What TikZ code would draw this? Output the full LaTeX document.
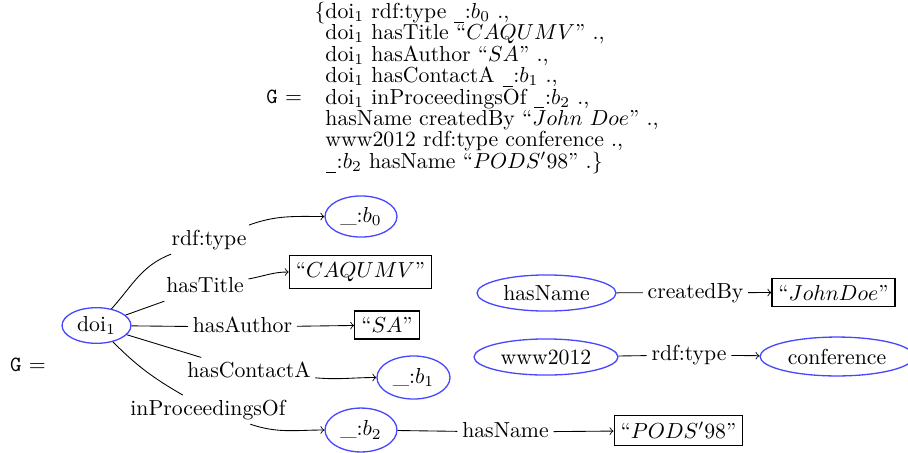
\documentclass[tikz,border=0pt]{standalone}
\usetikzlibrary{shapes.geometric}
\newcommand\myubar{\kern0.3pt\rule[-2pt]{4.6pt}{0.4pt}\kern0.3pt}
\begin{document}
\begin{tikzpicture}[x=0.46pt,y=-0.46pt,>=to,
  ell/.style={ellipse,draw=blue!72,line width=0.6pt,inner sep=0pt},
  lbl/.style={inner sep=2pt,text height=7pt,text depth=2pt},
  lit/.style={draw,line width=0.55pt,inner sep=3pt},
  topline/.style={anchor=base west,inner sep=0pt,font=\fontsize{10}{12}\selectfont}]
\useasboundingbox (0,0) rectangle (908,452);

% textual form
\node[anchor=base west,inner sep=0pt] (g1) at (266,103.7) {\texttt{G} $=$};
\node[topline] (t1) at (325,18.3)  {\llap{\{}doi$_1$ rdf:type \myubar:$b_0$ .,};
\node[topline] (t2) at (325,39.7)  {doi$_1$ hasTitle ``$CAQUMV$'' .,};
\node[topline] (t3) at (325,61.1)  {doi$_1$ hasAuthor ``$SA$'' .,};
\node[topline] (t4) at (325,82.5)  {doi$_1$ hasContactA \myubar:$b_1$ .,};
\node[topline] (t5) at (325,104)   {doi$_1$ inProceedingsOf \myubar:$b_2$ .,};
\node[topline] (t6) at (325,125.4) {hasName createdBy ``$John\ Doe$'' .,};
\node[topline] (t7) at (325,146.8) {www2012 rdf:type conference .,};
\node[topline] (t8) at (325,168.2) {\myubar:$b_2$ hasName ``$PODS'98$'' .\}};

% graph form
\node[inner sep=0pt] (g2) at (28,365) {\texttt{G} $=$};
\node[ell,minimum width=31.7pt,minimum height=16.4pt] (doi) at (96.5,325.5) {doi$_1$};
\node[ell,minimum width=33.1pt,minimum height=18.9pt] (b0) at (361,216.5) {\_:$b_0$};
\node[ell,minimum width=33.6pt,minimum height=19.8pt] (b1) at (413.5,377.5) {\_:$b_1$};
\node[ell,minimum width=33.1pt,minimum height=20.2pt] (b2) at (361,430) {\_:$b_2$};
\node[ell,minimum width=63.9pt,minimum height=16.6pt] (hn) at (546.5,293) {hasName};
\node[ell,minimum width=66.2pt,minimum height=16.6pt] (www) at (546,357) {www2012};
\node[ell,minimum width=70.8pt,minimum height=17.9pt] (conf) at (837,356.5) {conference};

\node[lit] (caq) at (360.5,272) {``$CAQUMV$''};
\node[lit] (sa) at (387,325) {``$SA$''};
\node[lit] (pods) at (678.5,430.5) {``$PODS'98$''};
\node[lit] (jd) at (833.5,292.5) {``$JohnDoe$''};

\node[lbl] (l1) at (209,239.6) {rdf:type};
\node[lbl] (l2) at (205,286.6) {hasTitle};
\node[lbl] (l3) at (242.5,327) {hasAuthor};
\node[lbl] (l4) at (249,372) {hasContactA};
\node[lbl] (l5) at (208,409.6) {inProceedingsOf};
\node[lbl] (l6) at (505.5,432) {hasName};
\node[lbl] (l7) at (695.5,292.6) {createdBy};
\node[lbl] (l8) at (689,355) {rdf:type};

\draw (doi) to[out=48,in=201] (l1);
\draw[->] (l1) to[out=20,in=180] (b0);
\draw (doi) -- (l2);
\draw[->] (l2) to[out=10,in=180] (caq);
\draw (doi) -- (l3);
\draw[->] (l3) -- (sa);
\draw (doi) -- (l4);
\draw[->] (l4) to[out=-5,in=180] (b1);
\draw (doi) to[out=-45,in=150] (l5);
\draw[->] (l5) to[out=-19,in=180] (b2);
\draw (b2) -- (l6);
\draw[->] (l6) -- (pods);
\draw (hn) -- (l7);
\draw[->] (l7) -- (jd);
\draw (www) -- (l8);
\draw[->] (l8) -- (conf);
\end{tikzpicture}
\end{document}
